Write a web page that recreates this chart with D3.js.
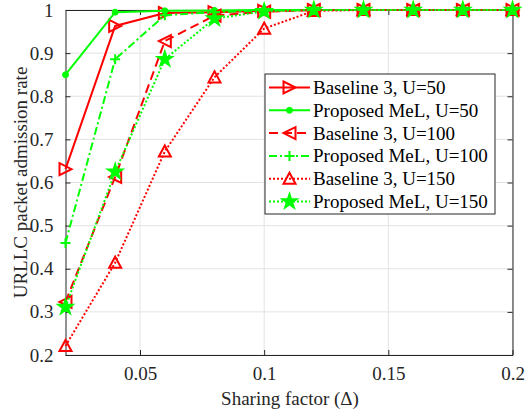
<!DOCTYPE html>
<html>
<head>
<meta charset="utf-8">
<script src="https://cdn.jsdelivr.net/npm/d3@7"></script>
<style>
  html, body { margin: 0; padding: 0; background: #fff; }
  svg { display: block; font-family: "Liberation Serif", "Times New Roman", serif; }
</style>
</head>
<body>
<svg id="chart" width="525" height="413"></svg>
<script>
// Sharing factor values on the x axis
const sharing = [0.02, 0.04, 0.06, 0.08, 0.10, 0.12, 0.14, 0.16, 0.18, 0.20];

// URLLC packet admission rate per scheme and user count
const baseline50  = [0.631, 0.963, 0.993, 0.995, 0.998, 1, 1, 1, 1, 1];
const proposed50  = [0.850, 0.995, 0.998, 0.999, 1, 1, 1, 1, 1, 1];
const baseline100 = [0.323, 0.613, 0.928, 0.987, 0.996, 1, 1, 1, 1, 1];
const proposed100 = [0.460, 0.886, 0.988, 0.995, 0.999, 1, 1, 1, 1, 1];
const baseline150 = [0.221, 0.414, 0.672, 0.844, 0.957, 0.998, 1, 1, 1, 1];
const proposed150 = [0.311, 0.625, 0.886, 0.980, 0.997, 1, 1, 1, 1, 1];

const seriesNames = [
  "Baseline 3, U=50", "Proposed MeL, U=50",
  "Baseline 3, U=100", "Proposed MeL, U=100",
  "Baseline 3, U=150", "Proposed MeL, U=150"
];

const xTicks = [0.05, 0.1, 0.15, 0.2];
const xTickLabels = ["0.05", "0.1", "0.15", "0.2"];
const yTicks = [0.2, 0.3, 0.4, 0.5, 0.6, 0.7, 0.8, 0.9, 1];
const yTickLabels = ["0.2", "0.3", "0.4", "0.5", "0.6", "0.7", "0.8", "0.9", "1"];

const RED = "#ff0000", GREEN = "#00ff00";
const styles = [
  { values: baseline50,  color: RED,   dash: null,        marker: "triRight" },
  { values: proposed50,  color: GREEN, dash: null,        marker: "dot" },
  { values: baseline100, color: RED,   dash: "9,5",       marker: "triLeft" },
  { values: proposed100, color: GREEN, dash: "8,3,2,3",   marker: "plus" },
  { values: baseline150, color: RED,   dash: "2,2",       marker: "triUp" },
  { values: proposed150, color: GREEN, dash: "2,2",       marker: "star" }
];

const svg = d3.select("#chart");
const L = 65.5, R = 512.5, T = 10, B = 355;
const x = d3.scaleLinear().domain([0.02, 0.2]).range([L, R]);
const y = d3.scaleLinear().domain([0.2, 1]).range([B, T]);
const AX = "#262626";
const FS = "19px";

// grid
const grid = svg.append("g");
grid.selectAll(".gx").data(xTicks).enter().append("line")
  .attr("x1", d => x(d)).attr("x2", d => x(d)).attr("y1", T).attr("y2", B)
  .attr("stroke", "#e3e3e3").attr("stroke-width", 1);
grid.selectAll(".gy").data(yTicks).enter().append("line")
  .attr("x1", L).attr("x2", R).attr("y1", d => y(d)).attr("y2", d => y(d))
  .attr("stroke", "#e3e3e3").attr("stroke-width", 1);

// axes with inward ticks
const xAxis = d3.axisBottom(x).tickValues(xTicks).tickFormat((d, i) => xTickLabels[i])
  .tickSizeInner(-5).tickSizeOuter(0).tickPadding(12);
const yAxis = d3.axisLeft(y).tickValues(yTicks).tickFormat((d, i) => yTickLabels[i])
  .tickSizeInner(-5).tickSizeOuter(0).tickPadding(12);

const gx = svg.append("g").attr("transform", `translate(0,${B})`).call(xAxis);
const gy = svg.append("g").attr("transform", `translate(${L},0)`).call(yAxis);
const gxTop = svg.append("g").attr("transform", `translate(0,${T})`)
  .call(d3.axisTop(x).tickValues(xTicks).tickFormat("").tickSizeInner(-5).tickSizeOuter(0));
const gyRight = svg.append("g").attr("transform", `translate(${R},0)`)
  .call(d3.axisRight(y).tickValues(yTicks).tickFormat("").tickSizeInner(-5).tickSizeOuter(0));

[gx, gy, gxTop, gyRight].forEach(g => {
  g.select(".domain").attr("stroke", AX).attr("stroke-width", 1);
  g.selectAll(".tick line").attr("stroke", AX);
  g.selectAll(".tick text").attr("fill", AX)
    .style("font-family", "'Liberation Serif', serif").style("font-size", FS);
});

// series lines and markers
const line = d3.line().x((d, i) => x(sharing[i])).y(d => y(d));

function drawMarker(g, type, cx, cy, color) {
  const s = 6;
  if (type === "triRight" || type === "triLeft" || type === "triUp") {
    let pts;
    if (type === "triRight") pts = [[cx - s, cy - s], [cx + s, cy], [cx - s, cy + s]];
    else if (type === "triLeft") pts = [[cx + s, cy - s], [cx - s, cy], [cx + s, cy + s]];
    else pts = [[cx, cy - s], [cx + s, cy + s * 0.85], [cx - s, cy + s * 0.85]];
    g.append("polygon").attr("points", pts.map(p => p.join(",")).join(" "))
      .attr("fill", "none").attr("stroke", color).attr("stroke-width", 2);
  } else if (type === "dot") {
    g.append("circle").attr("cx", cx).attr("cy", cy).attr("r", 3)
      .attr("fill", color).attr("stroke", color).attr("stroke-width", 1);
  } else if (type === "plus") {
    g.append("path").attr("d", `M${cx - 5},${cy}H${cx + 5}M${cx},${cy - 5}V${cy + 5}`)
      .attr("stroke", color).attr("stroke-width", 2).attr("fill", "none");
  } else if (type === "star") {
    const sym = d3.symbol().type(d3.symbolStar).size(75);
    g.append("path").attr("d", sym()).attr("transform", `translate(${cx},${cy})`)
      .attr("fill", color).attr("stroke", color).attr("stroke-width", 1.5);
  }
}

const plot = svg.append("g");
styles.forEach(st => {
  const g = plot.append("g");
  g.append("path").datum(st.values).attr("d", line)
    .attr("fill", "none").attr("stroke", st.color).attr("stroke-width", 2)
    .attr("stroke-dasharray", st.dash);
  st.values.forEach((v, i) => drawMarker(g, st.marker, x(sharing[i]), y(v), st.color));
});

// legend
const lg = svg.append("g");
const LX = 265, LY = 74, LW = 230, LH = 140;
lg.append("rect").attr("x", LX).attr("y", LY).attr("width", LW).attr("height", LH)
  .attr("fill", "#fff").attr("stroke", AX).attr("stroke-width", 1);
seriesNames.forEach((name, i) => {
  const st = styles[i];
  const cy = LY + 13.5 + i * 22.8;
  lg.append("line").attr("x1", LX + 4).attr("x2", LX + 45).attr("y1", cy).attr("y2", cy)
    .attr("stroke", st.color).attr("stroke-width", 2).attr("stroke-dasharray", st.dash);
  drawMarker(lg, st.marker, LX + 24.5, cy, st.color);
  lg.append("text").attr("x", LX + 48).attr("y", cy + 6.5)
    .attr("fill", "#000").style("font-size", FS).text(name);
});

// axis titles
svg.append("text").attr("x", 290).attr("y", 405).attr("text-anchor", "middle")
  .attr("fill", AX).style("font-size", FS).text("Sharing factor (Δ)");
svg.append("text").attr("transform", `translate(27,${(T + B) / 2}) rotate(-90)`)
  .attr("text-anchor", "middle").attr("fill", AX).style("font-size", FS)
  .text("URLLC packet admission rate");
</script>
</body>
</html>
